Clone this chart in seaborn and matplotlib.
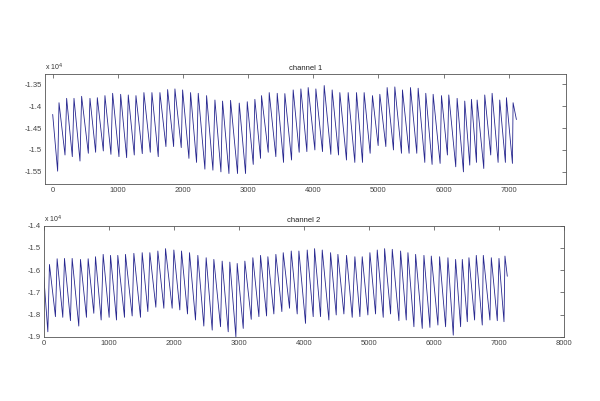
import numpy as np
import pandas as pd
import seaborn as sns
import matplotlib
matplotlib.use("Agg")
import matplotlib.pyplot as plt
from matplotlib.ticker import FuncFormatter

# channel 1: start, trough/peak pairs, end (sample index, raw value)
ch1_start = (0, -14190)
ch1_end = (7117, -14307)
ch1_trough_x = [76, 189, 301, 419, 547, 659, 777, 894, 1017, 1135, 1252, 1375, 1498, 1620, 1738,
                1856, 1973, 2091, 2208, 2336, 2459, 2582, 2705, 2837, 2960, 3078, 3190, 3308, 3425, 3543,
                3666, 3783, 3901, 4024, 4141, 4269, 4387, 4509, 4637, 4755, 4872, 4995, 5113, 5230, 5353,
                5470, 5588, 5711, 5823, 5946, 6058, 6186, 6304, 6401, 6504, 6616, 6723, 6836, 6948, 7056]
ch1_trough_y = [-15484, -15115, -15153, -15253, -15076, -15053, -15023, -15100, -15153, -15176,
                -15115, -15084, -15053, -15153, -14923, -14923, -14946, -15192, -15284, -15438,
                -15461, -15500, -15538, -15538, -15538, -15330, -15192, -15053, -15153, -15284,
                -15230, -15053, -15038, -15000, -15038, -15100, -15115, -15230, -15284, -15284,
                -15076, -14900, -14923, -15000, -15076, -15076, -15076, -15284, -15330, -15307,
                -15115, -15384, -15500, -15346, -15284, -15423, -15115, -15284, -15284, -15307]
ch1_peak_x = [97, 214, 327, 444, 572, 685, 802, 920, 1043, 1160, 1278, 1400, 1523, 1646, 1764,
              1876, 1994, 2116, 2234, 2362, 2490, 2607, 2730, 2863, 2986, 3103, 3205, 3323, 3446, 3563,
              3691, 3809, 3921, 4039, 4167, 4289, 4407, 4535, 4663, 4780, 4908, 5021, 5133, 5251, 5368,
              5491, 5609, 5726, 5839, 5967, 6079, 6207, 6324, 6427, 6514, 6631, 6744, 6861, 6964, 7066]
ch1_peak_y = [-13923, -13823, -13823, -13777, -13823, -13808, -13761, -13708, -13731, -13746,
              -13761, -13692, -13692, -13692, -13623, -13608, -13631, -13692, -13708, -13761,
              -13861, -13885, -13869, -13931, -13900, -13846, -13761, -13692, -13708, -13715,
              -13631, -13608, -13577, -13608, -13531, -13631, -13692, -13692, -13692, -13692,
              -13761, -13731, -13577, -13562, -13631, -13577, -13592, -13708, -13731, -13761,
              -13746, -13823, -13885, -13846, -13861, -13746, -13708, -13861, -13808, -13923]

# channel 2
ch2_start = (0, -16300)
ch2_end = (7128, -16273)
ch2_trough_x = [62, 179, 292, 410, 538, 656, 769, 882, 1005, 1118, 1241, 1359, 1487, 1600, 1723,
                1846, 1974, 2092, 2210, 2333, 2461, 2590, 2718, 2836, 2954, 3067, 3190, 3308, 3426, 3538,
                3661, 3779, 3897, 4025, 4143, 4256, 4384, 4497, 4615, 4743, 4861, 4984, 5102, 5220, 5333,
                5461, 5574, 5692, 5820, 5938, 6061, 6179, 6297, 6410, 6513, 6625, 6743, 6861, 6974, 7077]
ch2_trough_y = [-18772, -18091, -18121, -18272, -18515, -18121, -17939, -18242, -18121, -18242,
                -18121, -18060, -18121, -17863, -17666, -17712, -17712, -17788, -17969, -18242,
                -18515, -18697, -18545, -18772, -19000, -18621, -18212, -18091, -18060, -17969,
                -17863, -17712, -17969, -18394, -18091, -18091, -18242, -18015, -17969, -18121,
                -18091, -18015, -17969, -18121, -17969, -18272, -18242, -18545, -18621, -18575,
                -18469, -18545, -18924, -18545, -18318, -18242, -18469, -18242, -18272, -18318]
ch2_peak_x = [87, 205, 318, 436, 564, 682, 795, 913, 1026, 1138, 1256, 1385, 1513, 1631, 1754,
              1872, 2000, 2118, 2241, 2369, 2497, 2615, 2743, 2861, 2974, 3092, 3215, 3333, 3446, 3569,
              3682, 3805, 3923, 4051, 4164, 4282, 4410, 4523, 4656, 4784, 4897, 5015, 5128, 5241, 5359,
              5487, 5600, 5718, 5846, 5959, 6087, 6215, 6333, 6436, 6538, 6651, 6759, 6882, 7000, 7092]
ch2_peak_y = [-15742, -15485, -15470, -15470, -15515, -15485, -15394, -15288, -15333, -15333,
              -15288, -15242, -15212, -15212, -15136, -15030, -15091, -15136, -15212, -15333,
              -15439, -15515, -15591, -15636, -15697, -15591, -15439, -15333, -15394, -15288,
              -15212, -15136, -15136, -15091, -15030, -15091, -15212, -15288, -15333, -15394,
              -15394, -15212, -15091, -15030, -15061, -15136, -15212, -15288, -15333, -15364,
              -15394, -15439, -15515, -15515, -15439, -15333, -15333, -15439, -15470, -15364]


def build(start, tx, ty, px, py, end):
    xs = [start[0]]
    ys = [start[1]]
    for a, b, c, d in zip(tx, ty, px, py):
        xs += [a, c]
        ys += [b, d]
    xs.append(end[0])
    ys.append(end[1])
    return pd.DataFrame({"sample": xs, "value": ys})


df1 = build(ch1_start, ch1_trough_x, ch1_trough_y, ch1_peak_x, ch1_peak_y, ch1_end)
df2 = build(ch2_start, ch2_trough_x, ch2_trough_y, ch2_peak_x, ch2_peak_y, ch2_end)

sns.set_style("white")
plt.rcParams["font.family"] = ["Liberation Sans", "DejaVu Sans"]

fig = plt.figure(figsize=(6, 4.01), dpi=100)
ax1 = fig.add_axes([0.075, 0.541, 0.868, 0.274])
ax2 = fig.add_axes([0.073, 0.160, 0.867, 0.277])

line_col = "#27278f"
fmt = FuncFormatter(lambda v, p: f"{v / 1e4:g}")

for ax, df, title, xlim, ylim, yt, xt in [
    (ax1, df1, "channel 1", (-118, 7875), (-15778, -13272),
     [-15500, -15000, -14500, -14000, -13500], range(0, 8000, 1000)),
    (ax2, df2, "channel 2", (0, 8000), (-19000, -14000),
     [-19000, -18000, -17000, -16000, -15000, -14000], range(0, 9000, 1000)),
]:
    sns.lineplot(data=df, x="sample", y="value", ax=ax, color=line_col,
                 linewidth=0.6, estimator=None, sort=False)
    ax.set_xlim(*xlim)
    ax.set_ylim(*ylim)
    ax.set_xticks(list(xt))
    ax.set_yticks(yt)
    ax.yaxis.set_major_formatter(fmt)
    ax.set_xlabel("")
    ax.set_ylabel("")
    ax.set_title(title, fontsize=5.5, pad=3, color="#222222")
    ax.tick_params(direction="in", length=3, width=0.5, labelsize=5.5,
                   top=True, right=True, colors="#444444", pad=2)
    for s in ax.spines.values():
        s.set_linewidth(0.6)
        s.set_color("#555555")
    ax.text(0, 1.01, "x 10$^4$", transform=ax.transAxes, fontsize=5,
            color="#333333", va="bottom", ha="left")

fig.savefig("out.png", dpi=100, facecolor="white")
